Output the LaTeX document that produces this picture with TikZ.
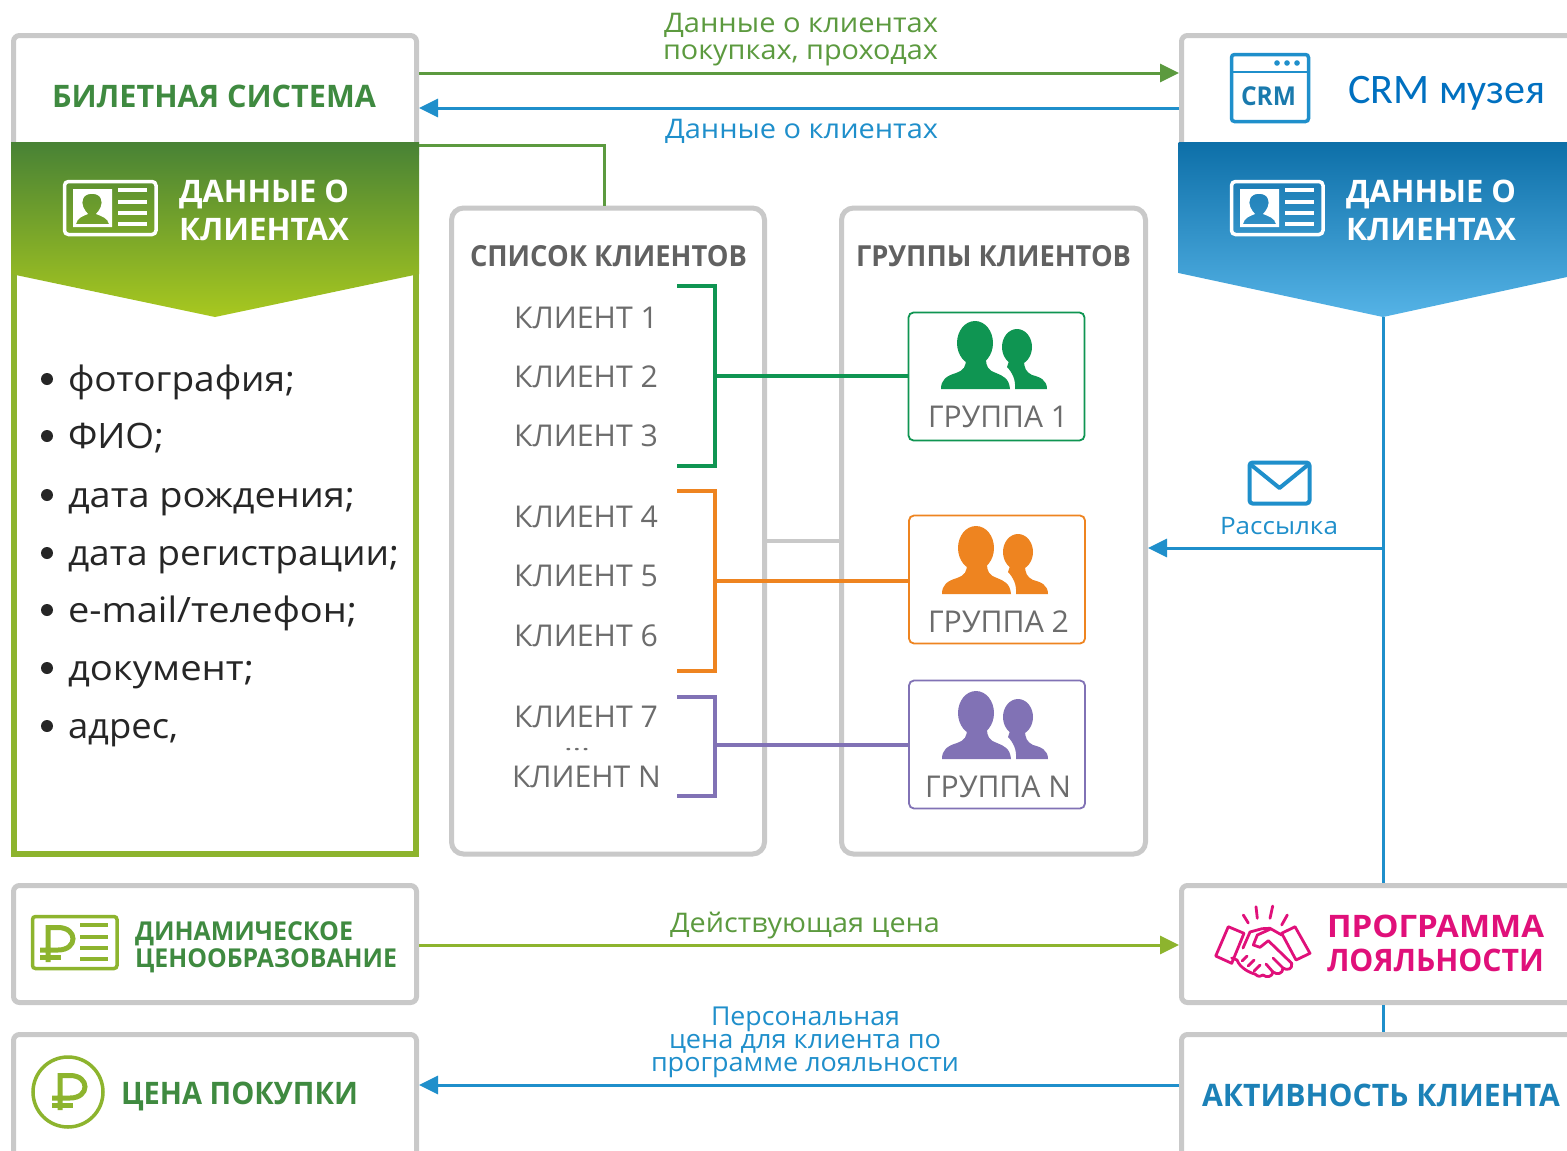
\documentclass[tikz,border=0pt]{standalone}
\usepackage{graphicx}
\usepackage{fontspec}
\setmainfont{Open Sans}
\newfontfamily\carlito{Carlito}
\usetikzlibrary{arrows.meta}
\definecolor{boxgray}{HTML}{C9C9C9}
\definecolor{dgreen}{HTML}{3F8A40}
\definecolor{lgreen}{HTML}{5C9A3F}
\definecolor{lime}{HTML}{8DB42E}
\definecolor{skyb}{HTML}{1F8FCB}
\definecolor{txtg}{HTML}{6C6C6C}
\definecolor{gr1}{HTML}{0F9552}
\definecolor{gr2}{HTML}{EE8420}
\definecolor{grn}{HTML}{8172B5}
\definecolor{pinkc}{HTML}{E0107A}
\definecolor{hgtop}{HTML}{488235}
\definecolor{hgbot}{HTML}{A8C81F}
\definecolor{hbtop}{HTML}{0D6FA8}
\definecolor{hbbot}{HTML}{55B3E6}
\newcommand\ff[2]{\resizebox{#1pt}{\height}{#2}}
\tikzset{
 x=1pt,y=-1pt,
 lbl/.style={anchor=base west,inner sep=0pt,outer sep=0pt,font=\fontsize{#1}{#1}\selectfont},
 hbl/.style={anchor=base west,inner sep=0pt,outer sep=0pt,font=\bfseries\fontsize{#1}{#1}\selectfont},
 graybox/.style={draw=boxgray,line width=5pt,rounded corners=6pt,inner sep=0pt},
 ghost/.style={inner sep=0pt,outer sep=0pt},
 grpbox/.style={draw=#1,fill=white,line width=1.8pt,rounded corners=5pt,minimum width=176pt,minimum height=128pt,inner sep=0pt},
 garr/.style={draw=lgreen,line width=3pt,-{Triangle[length=19pt,width=18pt,fill=lgreen]}},
 barr/.style={draw=skyb,line width=3pt,-{Triangle[length=19pt,width=18pt,fill=skyb]}},
 idcard/.pic={
  \draw[white,line width=3.5pt,rounded corners=4pt] (0,0) rectangle (91.5,53);
  \fill[white,even odd rule] (8.5,7.5) rectangle (47.5,45.5)
    (11.5,42.5) .. controls (12.5,36.5) and (18.5,34.5) .. (23.5,32.5) .. controls (19.5,28.5) and (16.5,22.5) .. (18.5,17.5)
     .. controls (20.5,10.5) and (34.5,10.5) .. (36.5,17.5) .. controls (38.5,22.5) and (35.5,28.5) .. (31.5,32.5)
     .. controls (36.5,34.5) and (43.5,36.5) .. (44.5,42.5) -- cycle;
  \foreach \yy in {8.5,20.5,31.5,42.5} \fill[white] (53.5,\yy-1.7) rectangle (82.5,\yy+1.7);
 },
 twopeople/.pic={
  \fill[#1] (35,21) ellipse [x radius=18,y radius=22];
  \fill[#1] (1,67) .. controls (1,58) and (6,54) .. (16,51) .. controls (24,48) and (26,45) .. (26,36) -- (46,36)
     .. controls (46,45) and (48,48) .. (56,51) .. controls (63,54) and (69,56) .. (70,67) -- cycle;
  \fill[#1] (77,25) ellipse [x radius=15,y radius=18];
  \fill[#1] (75,67) .. controls (76,58) and (72,50) .. (67,45) -- (70,36) -- (84,38)
     .. controls (84,46) and (86,50) .. (92,53) .. controls (100,55) and (107,58) .. (107,67) -- cycle;
 },
 rublesign/.pic={
  \draw[#1,line width=5pt] (8,37) -- (8,2.5) -- (18,2.5) .. controls (38,2.5) and (38,25) .. (18,25) -- (0,25);
  \draw[#1,line width=5pt] (0,32) -- (21,32);
 },
}
\begin{document}
\begin{tikzpicture}
\useasboundingbox (0,0) rectangle (1567,1151);
\fill[white] (0,0) rectangle (1567,1151);

%% left column boxes
\node[graybox,minimum width=403pt,minimum height=125pt] (bilet) at (215,98) {};
\node[ghost,minimum width=408pt,minimum height=715pt] (panel) at (215,499.5) {};
\draw[lime,line width=6pt] (14,270) -- (14,854) -- (415.5,854) -- (415.5,270);
\coordinate (gtip) at (215,317);
\shade[top color=hgtop,bottom color=hgbot]
  (11,142) -- (419,142) -- (419,274) -- (gtip) -- (11,274) -- cycle;
\node[hbl=31] (t1) at (52,107) {\textcolor{dgreen}{\ff{324}{БИЛЕТНАЯ СИСТЕМА}}};
\pic (c1) at (64.5,181.5) {idcard};
\node[hbl=31] (t2) at (179,202) {\textcolor{white}{\ff{170}{ДАННЫЕ О}}};
\node[hbl=31] (t3) at (179,240) {\textcolor{white}{\ff{170}{КЛИЕНТАХ}}};

\foreach \nm/\yy/\w/\s in {a/391/227/{фотография;},b/448/96/{ФИО;},c/507/287/{дата рождения;},d/565/331/{дата регистрации;},e/622/289/{e-mail/телефон;},f/680/186/{документ;},g/738/110/{адрес,}}{
  \fill[black!85] (47,\yy-12) circle (6);
  \node[lbl=35] (l\nm) at (68,\yy) {\textcolor{black!85}{\ff{\w}{\s}}};
}

%% middle boxes
\node[graybox,rounded corners=12pt,minimum width=313pt,minimum height=646pt] (spisok) at (608,531) {};
\node[graybox,rounded corners=12pt,minimum width=304pt,minimum height=646pt] (gruppy) at (993.5,531) {};
\node[hbl=29] (t4) at (470,266) {\textcolor{txtg!90!black}{\ff{277}{СПИСОК КЛИЕНТОВ}}};
\node[hbl=29] (t5) at (856,266) {\textcolor{txtg!90!black}{\ff{275}{ГРУППЫ КЛИЕНТОВ}}};
\foreach \nm/\yy/\s in {1/328/1,2/387/2,3/446/3,4/527/4,5/586/5,6/646/6,7/727/7}{
  \node[lbl=30] (k\nm) at (514,\yy) {\textcolor{txtg}{\ff{144}{КЛИЕНТ \s}}};
}
\node[lbl=18] (kdots) at (564,750) {\textcolor{txtg}{\ff{26}{...}}};
\node[lbl=30] (kn) at (512,787) {\textcolor{txtg}{\ff{149}{КЛИЕНТ N}}};

\draw[boxgray,line width=4pt] (spisok.east |- 0,541) -- (gruppy.west |- 0,541);

\node[grpbox=gr1] (g1) at (996.5,376.5) {};
\node[grpbox=gr2] (g2) at (997,579.5) {};
\node[grpbox=grn] (g3) at (997,744.5) {};
\pic (p1) at (940,322) {twopeople=gr1};
\pic (p2) at (941,527) {twopeople=gr2};
\pic (p3) at (941,692) {twopeople=grn};
\node[lbl=30] (gt1) at (928,427) {\textcolor{txtg}{\ff{140}{ГРУППА 1}}};
\node[lbl=30] (gt2) at (928,632) {\textcolor{txtg}{\ff{141}{ГРУППА 2}}};
\node[lbl=30] (gt3) at (925,797) {\textcolor{txtg}{\ff{146}{ГРУППА N}}};

\coordinate (b1) at (715,376);
\coordinate (b2) at (715,581);
\coordinate (b3) at (715,745);
\draw[gr1,line width=4pt] (677,286) -- (715,286) -- (715,466) -- (677,466);
\draw[gr1,line width=4pt] (b1) -- (g1.west |- b1);
\draw[gr2,line width=4pt] (677,490.5) -- (715,490.5) -- (715,670.5) -- (677,670.5);
\draw[gr2,line width=4pt] (b2) -- (g2.west |- b2);
\draw[grn,line width=4pt] (677,697) -- (715,697) -- (715,796) -- (677,796);
\draw[grn,line width=4pt] (b3) -- (g3.west |- b3);

\draw[lgreen,line width=3pt] (panel.north east |- 0,145) -- (604,145) -- (spisok.north -| 604,0);

%% right column
\node[ghost,minimum width=388pt,minimum height=109pt] (crm) at (1373,87.5) {};
\draw[boxgray,line width=5pt,rounded corners=6pt] (1567,35.5) -- (1181.5,35.5) -- (1181.5,150);
\coordinate (btip) at (1383,317);
\shade[top color=hbtop,bottom color=hbbot]
  (1178.5,142) -- (1567,142) -- (1567,277) -- (btip) -- (1178.5,273) -- cycle;
\draw[skyb,line width=3.5pt,rounded corners=3pt] (1231.5,54.5) rectangle (1308.5,121.5);
\draw[skyb,line width=2.5pt] (1231.5,72) -- (1308.5,72);
\foreach \xx in {1277,1287,1297} \fill[skyb] (\xx,63) circle (2.8);
\node[hbl=26] (crmi) at (1241,105) {\textcolor{skyb!85!black}{\ff{55}{CRM}}};
\node[anchor=base west,inner sep=0pt,font=\carlito\fontsize{42}{42}\selectfont] (crmt) at (1348,103) {\textcolor[HTML]{0070C0}{\ff{197}{CRM музея}}};
\pic (c2) at (1231.5,181.5) {idcard};
\node[hbl=31] (t6) at (1346,202) {\textcolor{white}{\ff{170}{ДАННЫЕ О}}};
\node[hbl=31] (t7) at (1346,240) {\textcolor{white}{\ff{170}{КЛИЕНТАХ}}};

\node[ghost,minimum width=388pt,minimum height=122pt] (loyal) at (1373,944) {};
\draw[boxgray,line width=5pt,rounded corners=6pt] (1567,885.5) -- (1181.5,885.5) -- (1181.5,1002.5) -- (1567,1002.5);
\node[ghost,minimum width=388pt,minimum height=119pt] (aktiv) at (1373,1091.5) {};
\draw[boxgray,line width=5pt,rounded corners=6pt] (1567,1034.5) -- (1181.5,1034.5) -- (1181.5,1151);

\draw[skyb,line width=3pt] (btip) -- (btip |- loyal.north);
\draw[skyb,line width=3pt] (btip |- loyal.south) -- (btip |- aktiv.north);
\coordinate (junc) at (1383,548);
\draw[barr] (junc) -- (gruppy.east |- junc);

\node[ghost,minimum width=63pt,minimum height=44pt] (mail) at (1279.5,483) {};
\draw[skyb,line width=4pt,rounded corners=3pt,line join=round] (1249.5,462.5) rectangle (1309.5,503.5);
\draw[skyb,line width=4pt,line join=round] (1250,464) -- (1279.5,488) -- (1309,464);
\node[lbl=24] (rass) at (1220,534) {\textcolor{skyb}{\ff{118}{Рассылка}}};

%% top arrows
\draw[garr] (bilet.east |- 0,73) -- (crm.west |- 0,73);
\draw[barr] (crm.west |- 0,108) -- (bilet.east |- 0,108);
\node[lbl=27] (a1) at (664,32) {\textcolor{lgreen}{\ff{274}{Данные о клиентах}}};
\node[lbl=27] (a2) at (663,59) {\textcolor{lgreen}{\ff{275}{покупках, проходах}}};
\node[lbl=27] (a3) at (665,138) {\textcolor{skyb}{\ff{273}{Данные о клиентах}}};

%% lower left
\node[graybox,minimum width=403pt,minimum height=117pt] (dyn) at (215,944) {};
\node[ghost,minimum width=408pt,minimum height=119pt] (cena) at (215,1091.5) {};
\draw[boxgray,line width=5pt,rounded corners=6pt] (13.5,1151) -- (13.5,1034.5) -- (416.5,1034.5) -- (416.5,1151);
\draw[lime,line width=3.5pt,rounded corners=3pt] (32.5,916.5) rectangle (117,968.5);
\pic (r1) at (40,925) {rublesign=lime};
\foreach \yy in {925,937,948,959} \fill[lime] (80,\yy-2) rectangle (108,\yy+2);
\node[hbl=26] (t8) at (135,940) {\textcolor{dgreen}{\ff{218}{ДИНАМИЧЕСКОЕ}}};
\node[hbl=26] (t9) at (135,967) {\textcolor{dgreen}{\ff{262}{ЦЕНООБРАЗОВАНИЕ}}};
\draw[lime,line width=3.5pt] (68,1092) circle (35);
\pic (r2) at (52,1073) {rublesign=lime};
\node[hbl=31] (t10) at (121,1104) {\textcolor{dgreen}{\ff{237}{ЦЕНА ПОКУПКИ}}};

%% lower right
\node[hbl=31] (t11) at (1327,937) {\textcolor{pinkc}{\ff{217}{ПРОГРАММА}}};
\node[hbl=31] (t12) at (1327,971) {\textcolor{pinkc}{\ff{217}{ЛОЯЛЬНОСТИ}}};
\node[hbl=31] (t13) at (1202,1106) {\textcolor{skyb!90!black}{\ff{358}{АКТИВНОСТЬ КЛИЕНТА}}};
\begin{scope}[shift={(1170,870)},pinkc,line width=2.8pt,line join=round,line cap=round]
 \draw (45.7,86) -- (58.3,56.7) -- (74,63.3) -- (61.7,93.3) -- cycle;
 \draw (125,56.7) -- (140,83.3) -- (126,90) -- (111.7,63.3) -- cycle;
 \draw (73,78) -- (80,62) -- (92,58.7) -- (100,58.3) -- (111.7,65);
 \draw (100,59.3) -- (87.3,65) -- (83.3,75) -- (90,77.3) -- (98.3,70.7) -- (121.7,93.3) .. controls (123,99) and (117,101) .. (113,98) -- (103,88);
 \draw (113,98) .. controls (113,104) and (107,105) .. (103,102) -- (96,94);
 \draw (103,102) .. controls (102,107) and (97,108) .. (93,105);
 \draw (61.7,88) -- (67,90) .. controls (70,98) and (80,103) .. (85,104) .. controls (88,107) and (91,107) .. (93,105);
 \draw (72,91) -- (77,86) (78,96) -- (84,90) (84,101) -- (90,95);
 \draw (78.3,53) -- (73.3,45) (87.3,48.3) -- (86,36.7) (100,48.3) -- (102.7,36) (111.7,55) -- (117.3,45);
\end{scope}

\draw[draw=lime,line width=3pt,-{Triangle[length=19pt,width=18pt,fill=lime]}] (dyn.east |- 0,945) -- (loyal.west |- 0,945);
\draw[barr] (aktiv.west |- 0,1085) -- (cena.east |- 0,1085);
\node[lbl=27] (a4) at (670,932) {\textcolor{lgreen}{\ff{270}{Действующая цена}}};
\node[lbl=26] (a5) at (711,1025) {\textcolor{skyb}{\ff{189}{Персональная}}};
\node[lbl=26] (a6) at (669,1048) {\textcolor{skyb}{\ff{272}{цена для клиента по}}};
\node[lbl=26] (a7) at (651,1071) {\textcolor{skyb}{\ff{308}{программе лояльности}}};
\end{tikzpicture}
\end{document}
